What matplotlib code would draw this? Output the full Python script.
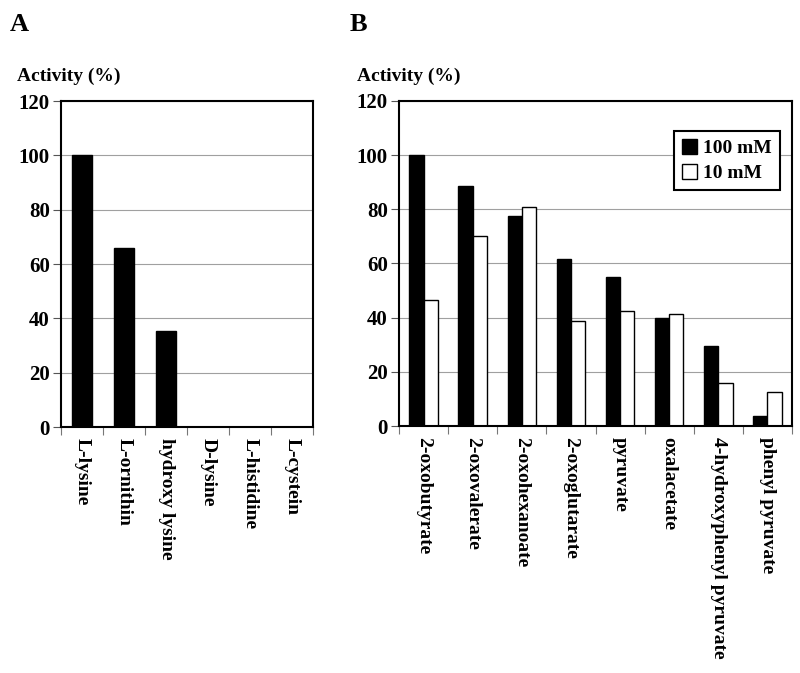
import numpy as np
import matplotlib.pyplot as plt
from matplotlib.patches import Patch

plt.rcParams['font.family'] = ['Liberation Serif', 'DejaVu Serif']
plt.rcParams['font.weight'] = 'bold'

# panel A: amino acid substrates
amino_acids = ["L-lysine", "L-ornithin", "hydroxy lysine", "D-lysine", "L-histidine", "L-cystein"]
amino_activity = [100, 66, 35.5, 0, 0, 0]

# panel B: 2-oxo acid substrates
oxo_acids = ["2-oxobutyrate", "2-oxovalerate", "2-oxohexanoate", "2-oxoglutarate",
             "pyruvate", "oxalacetate", "4-hydroxyphenyl pyruvate", "phenyl pyruvate"]
act_100mM = [100, 88.7, 77.6, 61.7, 55, 40, 29.5, 3.7]
act_10mM = [46.7, 70.3, 80.9, 38.8, 42.4, 41.4, 16, 12.6]

yticks = [0, 20, 40, 60, 80, 100, 120]


def style_axes(ax, n):
    ax.set_ylim(0, 120)
    ax.set_xlim(-0.5, n - 0.5)
    ax.set_yticks(yticks)
    ax.set_yticklabels([str(v) for v in yticks], fontsize=15, fontweight='bold')
    ax.yaxis.grid(True, color='#a0a0a0', linewidth=0.8)
    ax.set_axisbelow(True)
    ax.tick_params(axis='y', length=6, width=0.8, color='#555555', pad=2)
    ax.set_xticks(np.arange(-0.5, n), minor=True)
    ax.tick_params(axis='x', which='minor', length=6, width=0.8, color='#777777')
    ax.tick_params(axis='x', which='major', length=0, pad=8)
    for s in ax.spines.values():
        s.set_linewidth(1.5)
        s.set_color('black')


fig = plt.figure(figsize=(8, 6.73), dpi=100)

# --- A ---
axA = fig.add_axes([0.07625, 0.3655, 0.315, 0.4844])
xa = np.arange(len(amino_acids))
axA.bar(xa, amino_activity, width=0.48, color='black', edgecolor='black')
style_axes(axA, len(amino_acids))
axA.set_xticks(xa)
axA.set_xticklabels(amino_acids, rotation=-90, fontsize=14, fontweight='bold', va='top', ha='center')

# --- B ---
axB = fig.add_axes([0.49875, 0.367, 0.49125, 0.483])
xb = np.arange(len(oxo_acids))
w = 0.29
axB.bar(xb - w / 2, act_100mM, width=w, color='black', edgecolor='black', linewidth=1)
axB.bar(xb + w / 2, act_10mM, width=w, color='white', edgecolor='black', linewidth=1)
style_axes(axB, len(oxo_acids))
axB.set_xticks(xb)
axB.set_xticklabels(oxo_acids, rotation=-90, fontsize=14, fontweight='bold', va='top', ha='center')

handles = [Patch(facecolor='black', edgecolor='black', label='100 mM'),
           Patch(facecolor='white', edgecolor='black', label='10 mM')]
leg = axB.legend(handles=handles, loc='upper left', bbox_to_anchor=(0.70, 0.908),
                 prop={'family': 'Liberation Serif', 'weight': 'bold', 'size': 14},
                 handlelength=0.8, handleheight=0.8, handletextpad=0.3,
                 borderpad=0.4, labelspacing=0.35, borderaxespad=0,
                 fancybox=False, framealpha=1)
leg.get_frame().set_edgecolor('black')
leg.get_frame().set_linewidth(1.5)

# panel letters and axis titles
fig.text(10 / 800, 1 - 13 / 673, "A", fontsize=19, fontweight='bold', va='top', ha='left')
fig.text(350 / 800, 1 - 13 / 673, "B", fontsize=19, fontweight='bold', va='top', ha='left')
fig.text(17 / 800, 1 - 81 / 673, "Activity (%)", fontsize=14, fontweight='bold', va='baseline', ha='left')
fig.text(357 / 800, 1 - 81 / 673, "Activity (%)", fontsize=14, fontweight='bold', va='baseline', ha='left')

fig.savefig("out.png", dpi=100)
